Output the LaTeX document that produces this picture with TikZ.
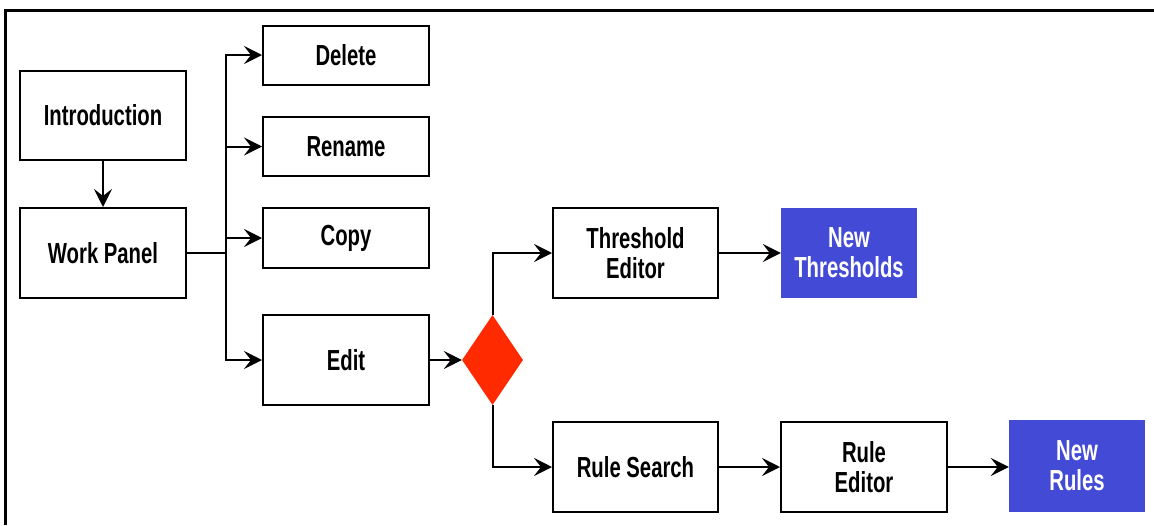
\documentclass[tikz,border=0pt]{standalone}
\usepackage{fontspec}
\setmainfont{Liberation Sans}[FakeStretch=0.7]
\usetikzlibrary{arrows.meta,shapes.geometric}
\definecolor{outblue}{RGB}{67,75,214}
\definecolor{decred}{RGB}{255,42,0}
\tikzset{
  box/.style={draw=black, line width=2pt, fill=white, inner sep=0pt,
    align=center, font=\fontsize{29}{30}\selectfont\bfseries},
  outbox/.style={fill=outblue, inner sep=0pt, align=center, text=white,
    font=\fontsize{29}{30}\selectfont\bfseries},
  link/.style={line width=2pt, -{Stealth[length=18pt,width=18pt,inset=7pt]}},
  wire/.style={line width=2pt}
}
\begin{document}
\begin{tikzpicture}[x=1pt,y=-1pt]
\useasboundingbox (0,0) rectangle (1154,525);
\fill[white] (0,0) rectangle (1154,525);
% frame along the top and left edges
\draw[line width=3pt] (5,525) -- (5,10) -- (1154,10);

% left column
\node[box, minimum width=166pt, minimum height=89pt] (intro) at (103,115.5) {Introduction};
\node[box, minimum width=166pt, minimum height=90pt] (work) at (103,253) {Work Panel};

% actions
\node[box, minimum width=166pt, minimum height=59pt] (delete) at (346,55) {Delete};
\node[box, minimum width=166pt, minimum height=59pt] (rename) at (346,146.5) {Rename};
\node[box, minimum width=166pt, minimum height=60pt] (copy) at (346,238) {Copy};
\node[box, minimum width=166pt, minimum height=90pt] (edit) at (346,360) {Edit};

% decision
\node[diamond, fill=decred, inner sep=0pt, minimum width=61pt, minimum height=90pt] (dec) at (492.5,360) {};

% editors and outputs
\node[box, minimum width=165pt, minimum height=90pt] (thr) at (635.5,253) {Threshold\\Editor};
\node[outbox, minimum width=136pt, minimum height=90pt] (newthr) at (849,253) {New\\Thresholds};
\node[box, minimum width=165pt, minimum height=90pt] (search) at (635.5,467) {Rule Search};
\node[box, minimum width=166pt, minimum height=90pt] (redit) at (864,467) {Rule\\Editor};
\node[outbox, minimum width=136pt, minimum height=92pt] (newrules) at (1077,466) {New\\Rules};

% connectors
\coordinate (hub) at (226,253);
\draw[link] (intro) -- (work);
\draw[wire] (work.east) -- (hub);
\draw[link] (hub) |- (delete.west);
\draw[link] (hub) |- (rename.west);
\draw[link] (hub) |- (copy.west);
\draw[link] (hub) |- (edit.west);
\draw[link] (edit) -- (dec);
\draw[link] (dec.north) |- (thr.west);
\draw[link] (dec.south) |- (search.west);
\draw[link] (thr) -- (newthr);
\draw[link] (search) -- (redit);
\draw[link] (redit.east) -- (redit.east -| newrules.west);
\end{tikzpicture}
\end{document}
